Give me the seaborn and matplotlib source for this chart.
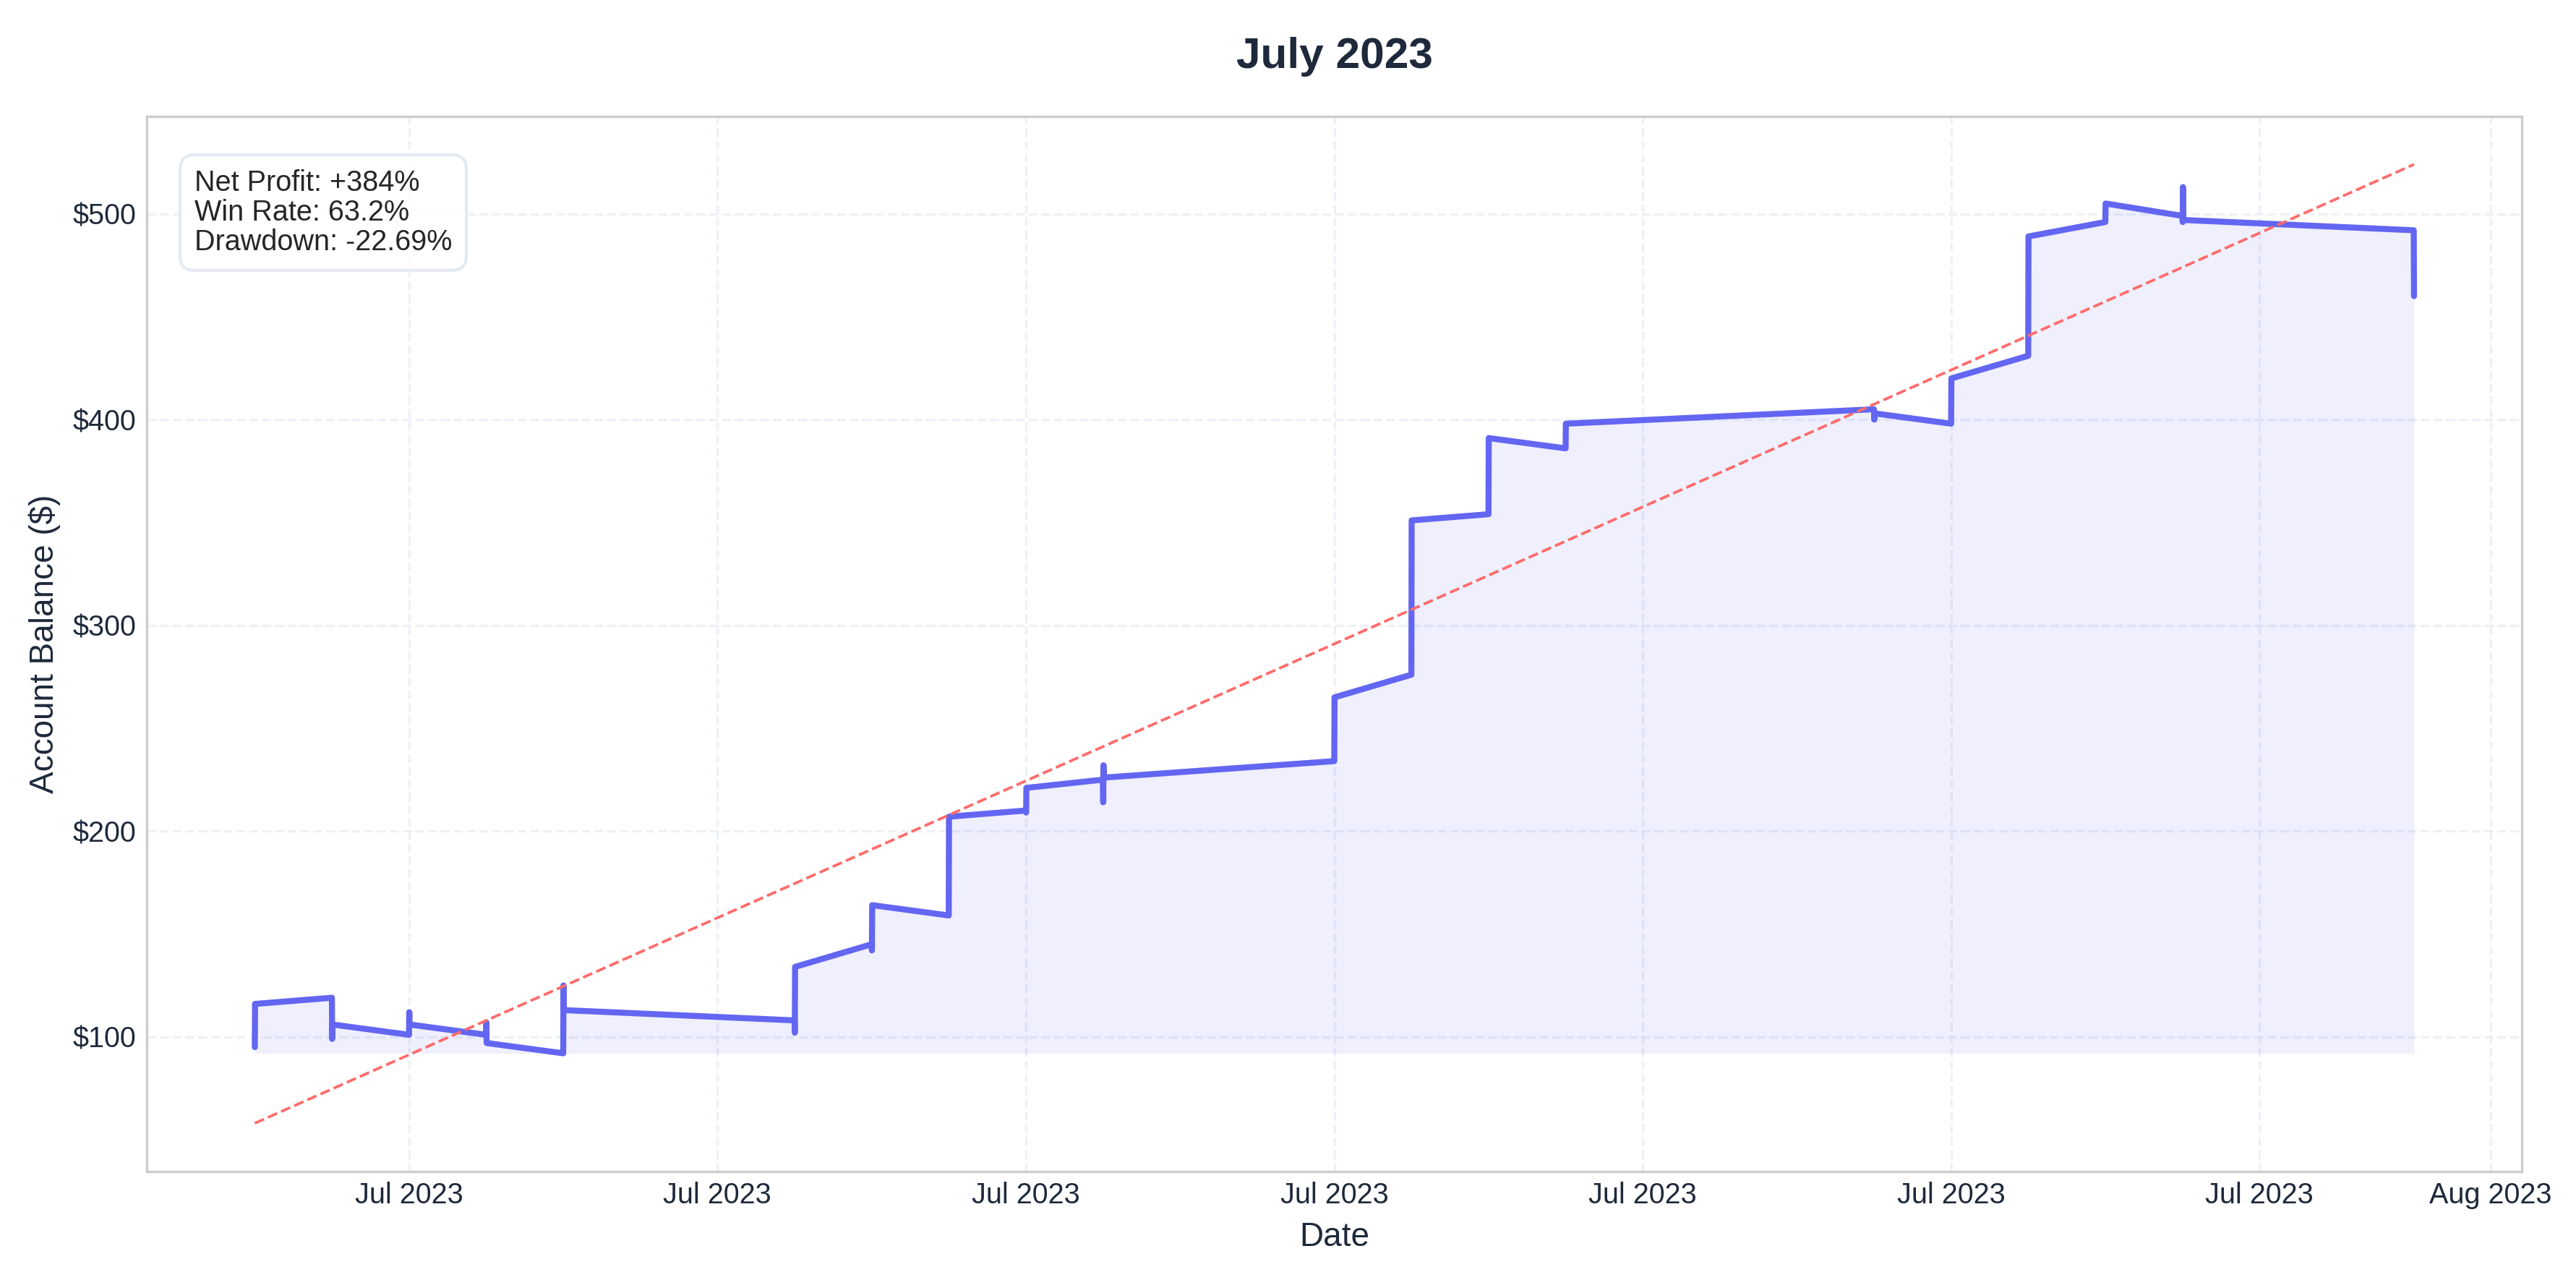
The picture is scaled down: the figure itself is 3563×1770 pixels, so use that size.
import matplotlib
matplotlib.use('Agg')
import matplotlib.pyplot as plt
import matplotlib.dates as mdates
import pandas as pd
import numpy as np
import seaborn as sns

# trade timestamps (July 2023) and resulting balances
times = [
    '2023-07-03 00:00', '2023-07-03 00:05',
    '2023-07-04 00:00', '2023-07-04 00:05', '2023-07-04 00:10',
    '2023-07-05 00:00', '2023-07-05 00:05', '2023-07-05 00:10',
    '2023-07-06 00:00', '2023-07-06 00:05', '2023-07-06 00:10',
    '2023-07-07 00:00', '2023-07-07 00:05', '2023-07-07 00:10',
    '2023-07-10 00:00', '2023-07-10 00:05', '2023-07-10 00:10',
    '2023-07-11 00:00', '2023-07-11 00:05', '2023-07-11 00:10',
    '2023-07-12 00:00', '2023-07-12 00:05',
    '2023-07-13 00:00', '2023-07-13 00:05', '2023-07-13 00:10',
    '2023-07-14 00:00', '2023-07-14 00:05', '2023-07-14 00:10', '2023-07-14 00:15',
    '2023-07-17 00:00', '2023-07-17 00:05',
    '2023-07-18 00:00', '2023-07-18 00:05',
    '2023-07-19 00:00', '2023-07-19 00:05',
    '2023-07-20 00:00', '2023-07-20 00:05',
    '2023-07-24 00:00', '2023-07-24 00:05', '2023-07-24 00:10',
    '2023-07-25 00:00', '2023-07-25 00:05',
    '2023-07-26 00:00', '2023-07-26 00:05',
    '2023-07-27 00:00', '2023-07-27 00:05',
    '2023-07-28 00:00', '2023-07-28 00:05', '2023-07-28 00:10', '2023-07-28 00:15',
    '2023-07-31 00:00', '2023-07-31 00:05',
]
balances = [
    95, 116,
    119, 99, 106,
    101, 112, 106,
    101, 107, 97,
    92, 125, 113,
    108, 102, 134,
    145, 142, 164,
    159, 207,
    210, 209, 221,
    225, 214, 232, 226,
    234, 265,
    276, 351,
    354, 391,
    386, 398,
    405, 400, 403,
    398, 420,
    431, 489,
    496, 505,
    499, 496, 513, 497,
    492, 460,
]
trend_times = ['2023-07-03 00:00', '2023-07-31 00:05']
trend_values = [58, 524]

stats_text = 'Net Profit: +384%\nWin Rate: 63.2%\nDrawdown: -22.69%'

df = pd.DataFrame({'time': pd.to_datetime(times), 'balance': balances})
trend = pd.DataFrame({'time': pd.to_datetime(trend_times), 'value': trend_values})

sns.set_theme(style='whitegrid')
plt.rcParams['font.family'] = ['Liberation Sans', 'DejaVu Sans']

fig, ax = plt.subplots(figsize=(11.877, 5.9), dpi=300)
sns.lineplot(data=df, x='time', y='balance', color='#6366f1', linewidth=2, ax=ax, estimator=None, sort=False)
ax.fill_between(df['time'], df['balance'].min(), df['balance'], color='#6366f1', alpha=0.1, linewidth=0)
sns.lineplot(data=trend, x='time', y='value', color='#ff6b6b', linewidth=0.9, ax=ax)
ax.lines[-1].set_linestyle('--')

ax.xaxis.set_major_locator(mdates.DayLocator(bymonthday=[1, 5, 9, 13, 17, 21, 25, 29]))
ax.xaxis.set_major_formatter(mdates.DateFormatter('%b %Y'))
ax.yaxis.set_major_formatter(matplotlib.ticker.FuncFormatter(lambda v, p: f'${v:,.0f}'))

ax.grid(True, linestyle='--', color='#e2e8f0', alpha=0.6, linewidth=0.8)
for s in ax.spines.values():
    s.set_color('#cccccc')
    s.set_linewidth(0.8)

ax.set_title('July 2023', fontsize=14.5, fontweight='bold', color='#1e293b', pad=16)
ax.set_xlabel('Date', fontsize=11, color='#1e293b')
ax.set_ylabel('Account Balance ($)', fontsize=11, color='#1e293b')
ax.tick_params(labelsize=9.5, colors='#1e293b', length=0)

ax.text(0.02, 0.95, stats_text, transform=ax.transAxes, fontsize=9.5, va='top', ha='left',
        linespacing=1.1,
        bbox=dict(boxstyle='round,pad=0.5', facecolor='white', edgecolor='#e2e8f0', alpha=0.9))

fig.subplots_adjust(left=0.057, right=0.979, top=0.909, bottom=0.085)
plt.savefig('out.png', dpi=300)
